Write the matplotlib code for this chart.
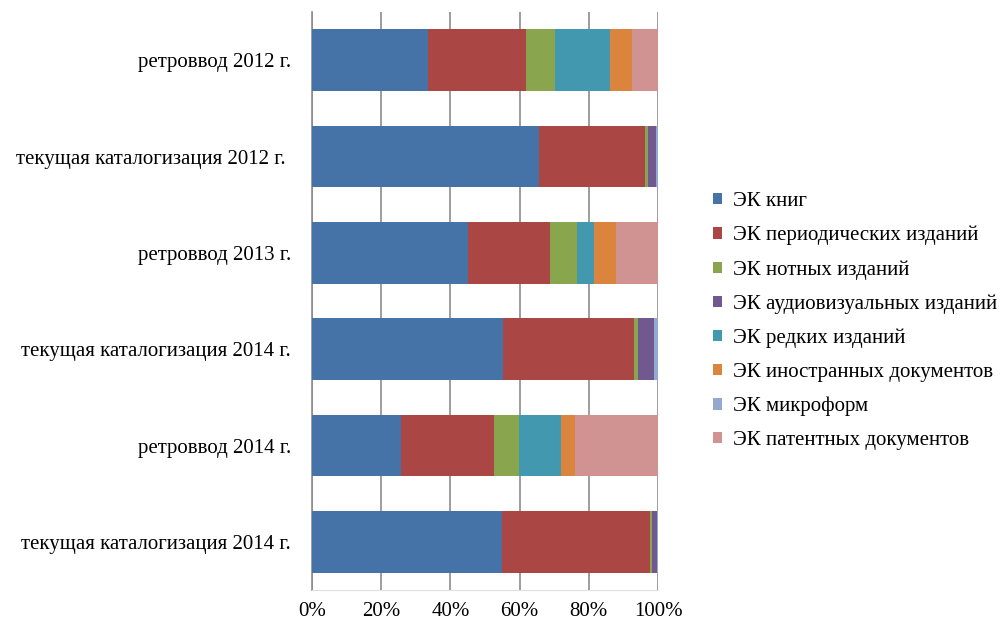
import matplotlib
matplotlib.use('Agg')
import matplotlib.pyplot as plt
from matplotlib.patches import Patch
import numpy as np

plt.rcParams['font.family'] = ['Liberation Serif', 'DejaVu Serif']

# категории сверху вниз
categories = ['ретроввод 2012 г.', 'текущая каталогизация 2012 г. ', 'ретроввод 2013 г.',
              'текущая каталогизация 2014 г.', 'ретроввод 2014 г.', 'текущая каталогизация 2014 г.']

series_names = ['ЭК книг', 'ЭК периодических изданий', 'ЭК нотных изданий',
                'ЭК аудиовизуальных изданий', 'ЭК редких изданий',
                'ЭК иностранных документов', 'ЭК микроформ', 'ЭК патентных документов']

# доли в процентах, по категориям
books       = [33.5, 65.6, 45.0, 55.3, 25.8, 54.9]
periodicals = [28.4, 30.5, 23.7, 37.9, 26.8, 42.9]
notes       = [8.4, 1.1, 7.9, 1.0, 7.1, 0.5]
audiovisual = [0.0, 2.3, 0.0, 4.5, 0.0, 1.4]
rare        = [15.8, 0.0, 4.8, 0.0, 12.2, 0.0]
foreign     = [6.5, 0.0, 6.6, 0.0, 4.1, 0.0]
microform   = [0.0, 0.5, 0.0, 1.3, 0.0, 0.3]
patent      = [7.4, 0.0, 12.0, 0.0, 24.0, 0.0]

series = [books, periodicals, notes, audiovisual, rare, foreign, microform, patent]
colors = ['#4572A7', '#AA4643', '#89A54E', '#71588F', '#4198AF', '#DB843D', '#93A9CF', '#D19392']

fig = plt.figure(figsize=(10.02, 6.25), dpi=100)
ax = fig.add_axes([0.3114, 0.056, 0.3453, 0.9248])

y = np.arange(len(categories))
left = np.zeros(len(categories))
for vals, col in zip(series, colors):
    vals = np.array(vals)
    ax.barh(y, vals, left=left, height=0.64, color=col, zorder=3)
    left += vals

ax.set_xlim(0, 100)
ax.set_ylim(len(categories) - 0.5, -0.5)
ax.set_xticks([0, 20, 40, 60, 80, 100])
ax.set_xticklabels(['0%', '20%', '40%', '60%', '80%', '100%'], fontsize=15)
ax.set_yticks(y)
ax.set_yticklabels(categories, fontsize=15)
ax.tick_params(axis='y', length=0, pad=15)
ax.tick_params(axis='x', length=0, pad=9)
ax.grid(axis='x', color='#8c8c8c', linewidth=1.2, zorder=0)
for s in ['top', 'right']:
    ax.spines[s].set_visible(False)
ax.spines['left'].set_color('#8c8c8c')
ax.spines['left'].set_linewidth(1.2)
ax.spines['bottom'].set_color('#e0e0e0')

handles = [Patch(facecolor=c, label=n) for c, n in zip(colors, series_names)]
fig.legend(handles=handles, loc='upper left', bbox_to_anchor=(0.703, 0.706),
           frameon=False, fontsize=15, handlelength=0.45, handleheight=0.45,
           handletextpad=0.5, labelspacing=0.71, borderaxespad=0)

fig.savefig('out.png', dpi=100)
